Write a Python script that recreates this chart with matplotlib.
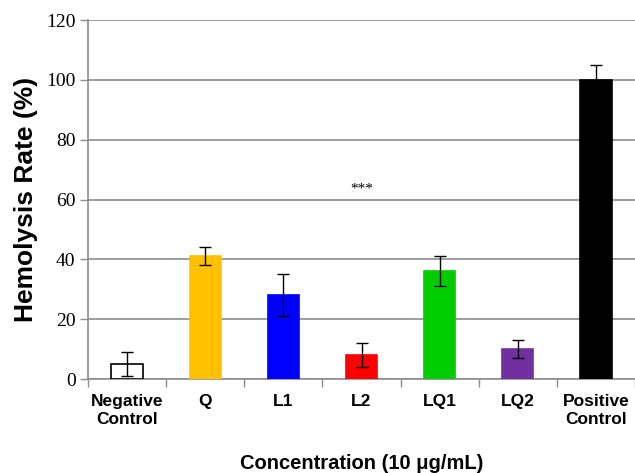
import numpy as np
import matplotlib
matplotlib.use("Agg")
from matplotlib import pyplot as plt

# data
categories = ["Negative\nControl", "Q", "L1", "L2", "LQ1", "LQ2", "Positive\nControl"]
rates = [5, 41, 28, 8, 36, 10, 100]
errors = [4, 3, 7, 4, 5, 3, 5]
colors = ["white", "#FFC000", "#0000FF", "#FF0000", "#00CC00", "#7030A0", "#000000"]
yticks = [0, 20, 40, 60, 80, 100, 120]

fig = plt.figure(figsize=(6.35, 4.73), dpi=100)
ax = fig.add_axes([0.1386, 0.1987, 0.8614, 0.759])

x = np.arange(len(categories))
edges = ["black" if c == "white" else c for c in colors]
ax.bar(x, rates, width=0.4, color=colors, edgecolor=edges, linewidth=1.2, zorder=3)
ax.errorbar(x, rates, yerr=errors, fmt="none", ecolor="black", elinewidth=1,
            capsize=4, capthick=1, zorder=4)

# significance mark
ax.text(3, 63.5, "***", ha="center", va="center", fontsize=11, family="Liberation Serif")

ax.set_xlim(-0.5, len(categories) - 0.5)
ax.set_ylim(0, 120)
ax.set_yticks(yticks)
ax.set_yticklabels([str(v) for v in yticks], family="Liberation Serif", fontsize=14)
ax.yaxis.grid(True, color="#8c8c8c", linewidth=1.2, zorder=0)

# category labels centered, ticks between categories
ax.set_xticks(x)
ax.set_xticklabels(categories, family="Liberation Sans", fontweight="bold", fontsize=12.5,
                   linespacing=1.2)
ax.tick_params(axis="x", length=0, pad=11)
ax.set_xticks(np.arange(-0.5, len(categories), 1.0), minor=True)
ax.tick_params(axis="x", which="minor", length=6, color="#8c8c8c", width=1)
ax.tick_params(axis="y", length=6, color="#8c8c8c", width=1, pad=3)

for side in ["top", "right"]:
    ax.spines[side].set_visible(False)
ax.spines["left"].set_color("#8c8c8c")
ax.spines["bottom"].set_color("#8c8c8c")
ax.spines["left"].set_linewidth(1.2)
ax.spines["bottom"].set_linewidth(1.2)

ax.set_ylabel("Hemolysis Rate (%)", family="Liberation Sans", fontweight="bold", fontsize=19,
              labelpad=6)
ax.set_xlabel("Concentration (10 μg/mL)", family="Liberation Sans", fontweight="bold",
              fontsize=14.5, labelpad=20)

fig.savefig("out.png", dpi=100)
